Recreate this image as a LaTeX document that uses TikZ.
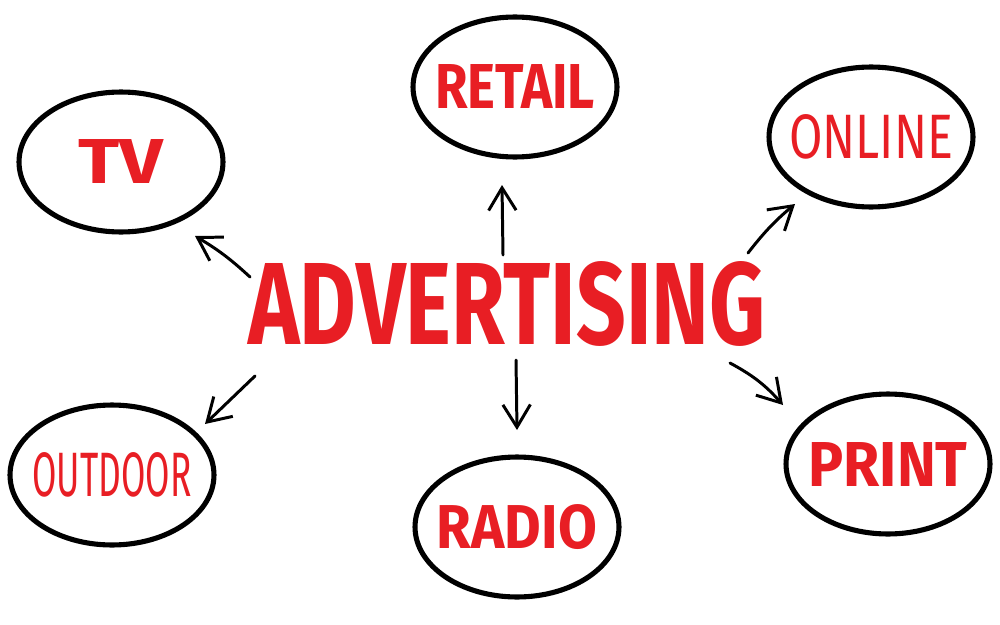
\documentclass[tikz,border=0pt]{standalone}
\usepackage{fontspec}
\setmainfont{Fira Sans}
\usetikzlibrary{shapes.geometric,arrows.meta}
\definecolor{adred}{RGB}{232,30,36}
\tikzset{
    bubble/.style={ellipse,draw=black,line width=2.9pt,minimum width=4.08cm,minimum height=2.8cm,inner sep=0pt},
    word/.style={text=adred,inner sep=0pt},
    arr/.style={-{Straight Barb[length=4.5mm,width=5.5mm]},line width=1.7pt,line cap=round},
}
\begin{document}
\begin{tikzpicture}[x=0.02cm,y=-0.02cm]
    \useasboundingbox (0,0) rectangle (1000,625);
    \fill[white] (0,0) rectangle (1000,625);
    % centre word
    \node[word] (ad) at (507,304) {\resizebox{10.34cm}{1.66cm}{\bfseries ADVERTISING}};
    % bubbles
    \foreach[evaluate={\txtw=\w*0.02}] \name/\x/\y/\w/\wt/\txt in
        {tv/121/162/85/\bfseries/TV, retail/515/87/160/\bfseries/RETAIL,
         online/871/137/164/\mdseries/ONLINE, outdoor/112/475/159/\mdseries/OUTDOOR,
         radio/517/527/160/\bfseries/RADIO, print/888/464/159/\bfseries/PRINT}
    {
        \node[bubble] (\name) at (\x,\y) {};
        \node[word] (\name-txt) at (\name) {\resizebox{\txtw cm}{0.88cm}{\wt\txt}};
    }
    % arrows
    \foreach \name/\xa/\ya/\xb/\yb/\b in
        {tv/250/277/195/236/-6, retail/503/255/502/185/0, online/748/253/795/204/6,
         outdoor/255/376/205/424/0, radio/516/360/517/430/0, print/730/363/783/405/10}
    {
        \coordinate (\name-from) at (\xa,\ya);
        \coordinate (\name-to) at (\xb,\yb);
        \draw[arr] (\name-from) to[bend left=\b] (\name-to);
    }
\end{tikzpicture}
\end{document}
